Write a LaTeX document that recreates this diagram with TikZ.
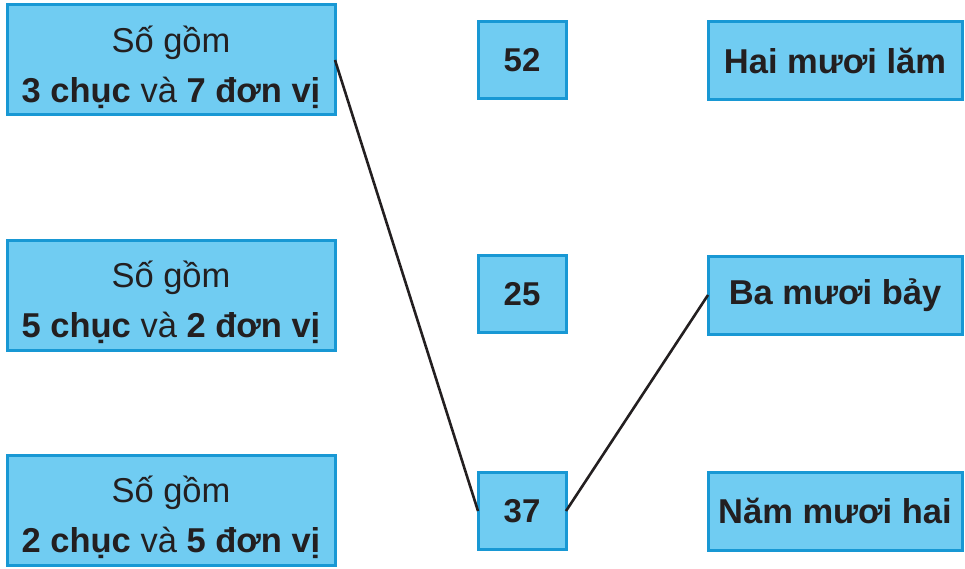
\documentclass[tikz,border=0pt]{standalone}
\usepackage{fontspec}
\setmainfont{Liberation Sans}
\definecolor{boxfill}{RGB}{112,204,242}
\definecolor{boxedge}{RGB}{24,152,212}
\definecolor{inkdark}{RGB}{35,31,32}
\usetikzlibrary{positioning}

\begin{document}
\begin{tikzpicture}[x=1pt,y=-1pt,
  card/.style={draw=boxedge,fill=boxfill,line width=3pt,text=inkdark,
               inner sep=0pt,outer sep=0pt,align=center,
               font=\fontsize{34.5}{50}\selectfont},
  leftcard/.style={card,minimum width=328pt,minimum height=110pt},
  numcard/.style={card,minimum width=88pt,minimum height=77pt,font=\fontsize{33}{50}\selectfont\bfseries},
  wordcard/.style={card,minimum width=254pt,minimum height=78pt,font=\fontsize{34.5}{50}\selectfont\bfseries},
  link/.style={line width=2.6pt,inkdark}]
  \useasboundingbox (0,0) rectangle (965,569);
  % left column
  \node[leftcard] (s37) at (171,60)  {\rule{0pt}{41pt}Số gồm\\\textbf{3 chục} và \textbf{7 đơn vị}};
  \node[leftcard] (s52) at (171,295) {\rule{0pt}{41pt}Số gồm\\\textbf{5 chục} và \textbf{2 đơn vị}};
  \node[leftcard] (s25) at (171,510) {\rule{0pt}{41pt}Số gồm\\\textbf{2 chục} và \textbf{5 đơn vị}};
  % middle column
  \node[numcard] (n52) at (522,60)  {52};
  \node[numcard] (n25) at (522,294) {25};
  \node[numcard] (n37) at (522,511) {37};
  % right column
  \node[wordcard] (w25) at (835,61)  {Hai mươi lăm};
  \node[wordcard] (w37) at (835,295) {Ba mươi bảy};
  \node[wordcard] (w52) at (835,511) {Năm mươi hai};
  % matching lines
  \draw[link] (s37.east) -- (n37.west);
  \draw[link] (n37.east) -- (w37.west);
\end{tikzpicture}
\end{document}
